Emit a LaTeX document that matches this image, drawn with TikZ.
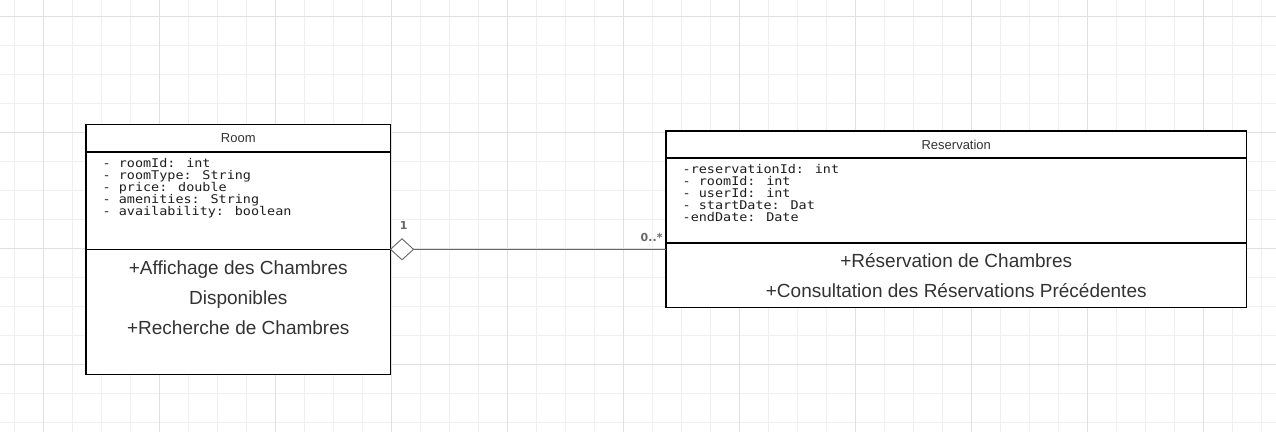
\documentclass[tikz,border=0pt]{standalone}
\usepackage{fontspec}
\setmainfont{Liberation Sans}
\newfontfamily\attrfont[FakeStretch=1.12]{DejaVu Sans Mono}
\newfontfamily\multfont{DejaVu Sans}
\usetikzlibrary{shapes.geometric}

\definecolor{gridminor}{HTML}{EFEFEF}
\definecolor{gridmajor}{HTML}{E0E0E0}
\definecolor{textgray}{HTML}{333333}
\definecolor{attrgray}{HTML}{1E1E1E}
\definecolor{linkgray}{HTML}{666666}

\begin{document}
\begin{tikzpicture}[x=1pt,y=-1pt,
    compart/.style={draw=black, line width=1.2pt, rectangle, anchor=north west,
        inner sep=0pt, outer sep=0pt, text=textgray, font=\fontsize{13}{15}\selectfont},
    attr/.style={anchor=base west, inner sep=0pt, text=attrgray,
        font=\attrfont\fontsize{12}{12}\selectfont},
    oper/.style={anchor=base, inner sep=0pt, text=textgray,
        font=\fontsize{19}{22}\selectfont},
    mult/.style={inner sep=0pt, text=linkgray, font=\multfont\bfseries\fontsize{11}{13}\selectfont},
    aggdiamond/.style={diamond, draw=linkgray, fill=white, line width=0.9pt, inner sep=0pt,
        outer sep=0pt, minimum width=23pt, minimum height=21pt},
    assoc/.style={draw=linkgray, line width=1pt}]
\useasboundingbox (0,0) rectangle (1276,432);
\fill [white] (0,0) rectangle (1276,432);
\foreach \i in {0,...,43} \draw [gridminor, line width=1pt] ({14.3+29*\i},0) -- ++(0,432);
\foreach \j in {0,...,14} \draw [gridminor, line width=1pt] (0,{16+29*\j}) -- ++(1276,0);
\foreach \i in {0,...,10} \draw [gridmajor, line width=1pt] ({43.3+116*\i},0) -- ++(0,432);
\foreach \j in {0,...,3} \draw [gridmajor, line width=1pt] (0,{16+116*\j}) -- ++(1276,0);

\node [compart, fill=white, minimum width=304.5pt, minimum height=27.5pt] (roomname) at (86,124.5) {Room};
\node [compart, fill=white, minimum width=304.5pt, minimum height=97.3pt] (roomattr) at (roomname.south west) {};
\node [compart, fill=white, minimum width=304.5pt, minimum height=125.2pt] (roomops) at (roomattr.south west) {};
\foreach \t [count=\i] in {- roomId: int, - roomType: String, - price: double,
    - amenities: String, - availability: boolean}
    \node [attr] (roomattr\i) at (102.5,{155.3+12*\i}) {\t};
\node [oper] (roomop1) at (238.25,274) {+Affichage des Chambres};
\node [oper] (roomop2) at (238.25,304) {Disponibles};
\node [oper] (roomop3) at (238.25,334) {+Recherche de Chambres};

\node [compart, fill=white, minimum width=580.5pt, minimum height=27pt] (resname) at (666,131) {Reservation};
\node [compart, fill=white, minimum width=580.5pt, minimum height=85pt] (resattr) at (resname.south west) {};
\node [compart, fill=white, minimum width=580.5pt, minimum height=64.5pt] (resops) at (resattr.south west) {};
\foreach \t [count=\i] in {-reservationId: int, - roomId: int, - userId: int,
    - startDate: Dat, -endDate: Date}
    \node [attr] (resattr\i) at (682.5,{161.3+12*\i}) {\t};
\node [oper] (resop1) at (956.25,267) {+Réservation de Chambres};
\node [oper] (resop2) at (956.25,297) {+Consultation des Réservations Précédentes};

\node [aggdiamond, anchor=west] (agg) at (roomattr.south east) {};
\draw [assoc] (agg.east) -- (agg.east -| resops.west);
\node [mult] (multone) at (403.7,225.5) {1};
\node [mult, anchor=base east] (multmany) at (662.7,241.7) {0..*};
\end{tikzpicture}
\end{document}
